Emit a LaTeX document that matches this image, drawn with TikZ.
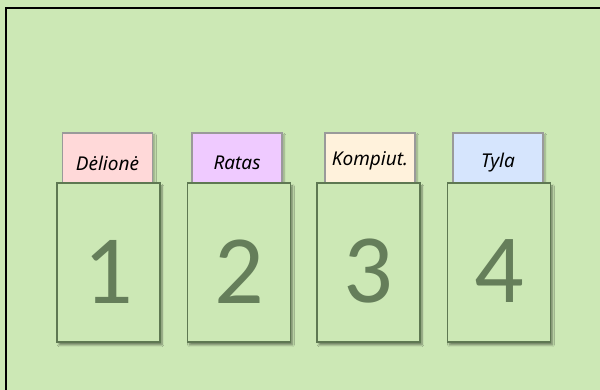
\documentclass[tikz,border=0pt]{standalone}
\usepackage{fontspec}
\setmainfont{Carlito}
\newfontfamily\handfont{Noto Sans}[ItalicFont={Noto Sans Italic}]
\usetikzlibrary{shadows,shadows.blur}
\definecolor{bgc}{HTML}{CCE8B5}
\definecolor{pocketline}{HTML}{5E7852}
\definecolor{digitc}{HTML}{657E5A}
\definecolor{cardline}{HTML}{9A9A9A}
\definecolor{cpink}{HTML}{FFD9D9}
\definecolor{cpurple}{HTML}{EFCAFF}
\definecolor{ccream}{HTML}{FFF2DC}
\definecolor{cblue}{HTML}{D6E5FD}
\begin{document}
\begin{tikzpicture}[x=1pt,y=1pt,
  cardbox/.style={draw=cardline, line width=1.2pt, minimum width=90pt, minimum height=50pt,
     inner sep=0pt, blur shadow={shadow blur steps=6, shadow xshift=2pt, shadow yshift=-2pt, shadow opacity=30}},
  cardtext/.style={font=\handfont\itshape\fontsize{19}{21}\selectfont, text=black, inner sep=0pt},
  pocketbox/.style={draw=pocketline, line width=1.2pt, fill=bgc, minimum width=103pt, minimum height=159pt,
     inner sep=0pt, blur shadow={shadow blur steps=6, shadow xshift=2pt, shadow yshift=-3pt, shadow opacity=45}},
  digit/.style={text=digitc, font=\fontsize{98}{98}\selectfont, inner sep=0pt}]
\useasboundingbox (0,0) rectangle (600,390);
\fill[bgc] (0,0) rectangle (600,390);
\draw[black, line width=2pt] (6,0) -- (6,382) -- (600,382);
% cards
\node[cardbox, fill=cpink]   (c1) at (107.5,232) {};
\node[cardbox, fill=cpurple] (c2) at (237,232) {};
\node[cardbox, fill=ccream]  (c3) at (370,232) {};
\node[cardbox, fill=cblue]   (c4) at (498,232) {};
\node[cardtext] (t1) at ([yshift=-5pt]c1.center) {Dėlionė};
\node[cardtext] (t2) at ([yshift=-5pt]c2.center) {Ratas};
\node[cardtext] (t3) at ([yshift=-3pt]c3.center) {Kompiut.};
\node[cardtext] (t4) at ([yshift=-5pt]c4.center) {Tyla};
% pockets
\node[pocketbox] (p1) at (108.5,127.5) {};
\node[pocketbox] (p2) at (239,127.5) {};
\node[pocketbox] (p3) at (368.5,127.5) {};
\node[pocketbox] (p4) at (499,127.5) {};
\node[digit] (n1) at ([yshift=-9pt]p1.center) {1};
\node[digit] (n2) at ([yshift=-9pt]p2.center) {2};
\node[digit] (n3) at ([yshift=-9pt]p3.center) {3};
\node[digit] (n4) at ([yshift=-9pt]p4.center) {4};
\end{tikzpicture}
\end{document}
